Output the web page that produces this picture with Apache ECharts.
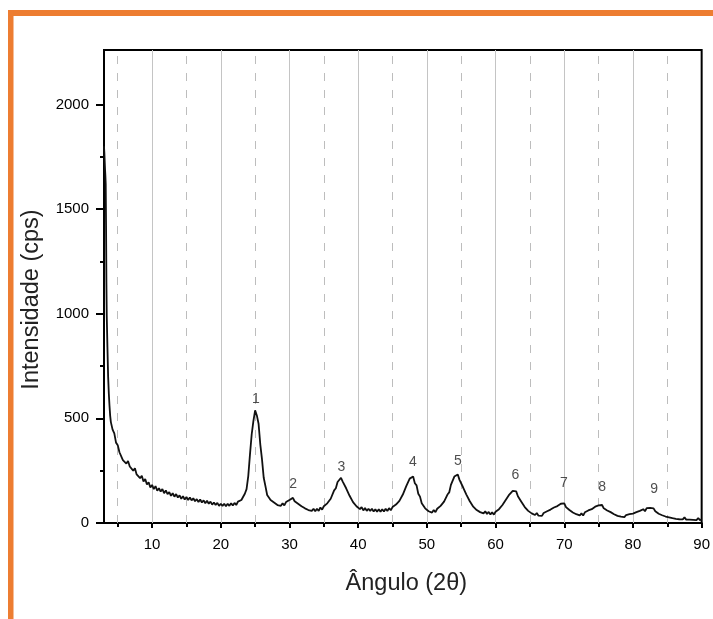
<!DOCTYPE html>
<html>
<head>
<meta charset="utf-8">
<script src="https://cdn.jsdelivr.net/npm/echarts@6/dist/echarts.min.js"></script>
<style>
html,body{margin:0;padding:0;background:#fff;}
#chart{width:713px;height:619px;}
</style>
</head>
<body>
<div id="chart"></div>
<script>
// Steep start of the scan (3° – 3.9°)
var startAngles = [3.0, 3.05, 3.1, 3.15, 3.2, 3.25, 3.3, 3.35, 3.4, 3.5, 3.6, 3.7, 3.8, 3.9];
var startIntensity = [1800, 1770, 1730, 1690, 1660, 1620, 1420, 1150, 990, 840, 700, 620, 560, 512];
// Remainder of the scan, sampled every 0.25° from 4°
var scanStart = 4.0;
var scanStep = 0.25;
var scanIntensity = [
  482, 446, 428, 384,  372, 338, 332, 300,  308, 284, 296, 270,  274, 250, 262, 232,
  240, 214, 226, 198,  210, 184, 194, 170,  182, 162, 176, 154,  166, 150, 162, 142,
  156, 138, 148, 130,  142, 126, 138, 122,  132, 116, 128, 112,  124, 110, 122, 108,
  118, 104, 114, 100,  112, 98, 108, 94,    106, 92, 102, 88,    98, 86, 96, 82,
  92, 82, 92, 80,      92, 82, 94, 84,      96, 86, 102, 94,     110, 112, 140, 162,
  224, 328, 424, 488,  538, 514, 474, 376,  304, 216, 176, 134,  130, 110, 116, 98,
  100, 86, 94, 82,     94, 84, 100, 94,     110, 104, 120, 104,  110, 92, 96, 80,
  86, 70, 78, 62,      70, 58, 68, 56,      68, 58, 74, 64,      80, 76, 94, 92,
  116, 122, 156, 166,  196, 198, 216, 198,  196, 166, 160, 130,  126, 100, 100, 80,
  84, 66, 76, 60,      72, 58, 68, 58,      68, 55, 66, 54,      66, 54, 66, 55,
  68, 57, 71, 61,      76, 70, 88, 84,      106, 108, 136, 144,  176, 184, 212, 216,
  222, 190, 180, 140,  126, 94, 92, 70,     74, 56, 64, 50,      62, 52, 68, 62,
  82, 78, 102, 104,    136, 146, 182, 190,  222, 226, 232, 206,  200, 172, 166, 136,
  130, 104, 102, 78,   80, 62, 68, 52,      60, 46, 56, 43,      53, 41, 51, 40,
  54, 48, 66, 64,      86, 86, 111, 112,    136, 134, 154, 150,  151, 128, 126, 102,
  101, 76, 78, 58,     64, 46, 54, 38,      48, 35, 44, 34,      48, 40, 56, 48,
  64, 58, 74, 66,      81, 74, 92, 84,      94, 76, 81, 62,      68, 50, 56, 42,
  51, 36, 46, 36,      51, 42, 60, 52,      66, 60, 78, 70,      84, 76, 86, 70,
  78, 60, 66, 52,      61, 42, 50, 34,      43, 30, 37, 28,      38, 30, 42, 33,
  45, 39, 52, 44,      58, 50, 66, 56,      71, 62, 72, 64,      70, 56, 64, 44,
  50, 37, 45, 31,      40, 27, 35, 23,      31, 20, 29, 18,      27, 17, 27, 16,
  25, 16, 24, 15,      24, 14, 24, 14,      18
];
// Peak annotations
var peakLabels = ['1', '2', '3', '4', '5', '6', '7', '8', '9'];
var peakLabelAngles = [25.1, 30.55, 37.55, 47.95, 54.5, 62.9, 69.95, 75.5, 83.1];
var peakLabelHeights = [592, 186, 267, 293, 296, 229, 190, 173, 164];
// Axis ticks
var xMajorTicks = [10, 20, 30, 40, 50, 60, 70, 80, 90];
var xMinorTicks = [5, 15, 25, 35, 45, 55, 65, 75, 85];
var yMajorTicks = [0, 500, 1000, 1500, 2000];
var yMinorTicks = [250, 750, 1250, 1750];
var xSolidGrid = [10, 20, 30, 40, 50, 60, 70, 80];
var xDashedGrid = [5, 15, 25, 35, 45, 55, 65, 75, 85];

var scanData = [];
for (var i = 0; i < startAngles.length; i++) scanData.push([startAngles[i], startIntensity[i]]);
for (var j = 0; j < scanIntensity.length; j++) scanData.push([scanStart + j * scanStep, scanIntensity[j]]);

var labelData = peakLabels.map(function (t, k) {
  return { name: t, value: [peakLabelAngles[k], peakLabelHeights[k]] };
});

var gridLines = [];
xSolidGrid.forEach(function (v) {
  gridLines.push({ xAxis: v, lineStyle: { color: '#c4c4c4', width: 1, type: 'solid' } });
});
xDashedGrid.forEach(function (v) {
  gridLines.push({ xAxis: v, lineStyle: { color: '#bdbdbd', width: 1, type: [8, 9] } });
});

var FONT = '"Liberation Sans", Arial, sans-serif';
var chart = echarts.init(document.getElementById('chart'), null, { renderer: 'canvas' });
chart.setOption({
  animation: false,
  backgroundColor: '#fff',
  graphic: [
    { type: 'rect', shape: { x: 8, y: 10, width: 705, height: 6 }, style: { fill: '#ED7D31' }, z: 100 },
    { type: 'rect', shape: { x: 8, y: 10, width: 5.5, height: 609 }, style: { fill: '#ED7D31' }, z: 100 }
  ],
  grid: {
    left: 104, right: 8, top: 50, bottom: 96,
    show: true, borderColor: '#000', borderWidth: 2, backgroundColor: 'transparent'
  },
  xAxis: [
    {
      type: 'value', min: 3, max: 90,
      name: 'Ângulo (2θ)', nameLocation: 'middle', nameGap: 49,
      nameTextStyle: { fontFamily: FONT, fontSize: 23.5, color: '#222', padding: [0, 0, 0, 7] },
      axisLine: { show: true, onZero: false, lineStyle: { color: '#000', width: 2 } },
      axisTick: { show: true, inside: false, length: 5, customValues: xMajorTicks, lineStyle: { color: '#000', width: 2 } },
      axisLabel: { show: true, customValues: xMajorTicks, margin: 14, fontFamily: FONT, fontSize: 15, color: '#000' },
      splitLine: { show: false }
    },
    {
      type: 'value', min: 3, max: 90, position: 'bottom',
      axisLine: { show: false },
      axisTick: { show: true, inside: false, length: 4, customValues: xMinorTicks, lineStyle: { color: '#000', width: 2 } },
      axisLabel: { show: false },
      splitLine: { show: false }
    }
  ],
  yAxis: [
    {
      type: 'value', min: 0, max: 2260,
      name: 'Intensidade (cps)', nameLocation: 'middle', nameGap: 60,
      nameTextStyle: { fontFamily: FONT, fontSize: 23.5, color: '#222', padding: [0, 26, 0, 0] },
      axisLine: { show: true, onZero: false, lineStyle: { color: '#000', width: 2 } },
      axisTick: { show: true, inside: false, length: 8, customValues: yMajorTicks, lineStyle: { color: '#000', width: 2 } },
      axisLabel: {
        customValues: yMajorTicks, margin: 15, fontFamily: FONT, fontSize: 15, color: '#000',
        formatter: function (v) { return String(v); }
      },
      splitLine: { show: false }
    },
    {
      type: 'value', min: 0, max: 2260, position: 'left',
      axisLine: { show: false },
      axisTick: { show: true, inside: false, length: 4, customValues: yMinorTicks, lineStyle: { color: '#000', width: 2 } },
      axisLabel: { show: false },
      splitLine: { show: false }
    }
  ],
  series: [
    {
      type: 'line', data: [], silent: true, z: 1,
      markLine: { silent: true, symbol: ['none', 'none'], label: { show: false }, animation: false, data: gridLines }
    },
    {
      type: 'line', data: scanData, showSymbol: false, symbol: 'none', z: 5,
      lineStyle: { color: '#111', width: 1.8 }, silent: true
    },
    {
      type: 'scatter', data: labelData, symbolSize: 1, z: 6, silent: true,
      itemStyle: { color: 'transparent' },
      label: {
        show: true, position: 'inside', formatter: '{b}',
        fontFamily: FONT, fontSize: 14, color: '#222'
      }
    }
  ]
});
</script>
</body>
</html>
